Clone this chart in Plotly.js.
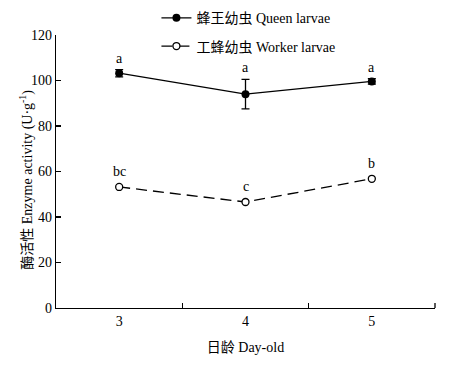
<!DOCTYPE html>
<html>
<head>
<meta charset="utf-8">
<script src="https://cdn.plot.ly/plotly-3.0.1.min.js"></script>
<style>html,body{margin:0;padding:0;background:#fff;}#chart{width:454px;height:372px;}</style>
</head>
<body>
<div id="chart"></div>
<script>
var days = ["3", "4", "5"];
var queenValues = [103.2, 94.0, 99.6];
var queenErrors = [1.6, 6.5, 1.2];
var queenLetters = ["a", "a", "a"];
var workerValues = [53.2, 46.6, 56.8];
var workerErrors = [0.5, 0.4, 0.5];
var workerLetters = ["bc", "c", "b"];
var yTicks = [0, 20, 40, 60, 80, 100, 120];

var FONT = "'Liberation Serif', 'Times New Roman', 'Noto Sans CJK SC', serif";

var traces = [
  {
    x: days, y: queenValues, type: "scatter", mode: "lines+markers",
    name: "蜂王幼虫 Queen larvae", legendgroup: "q",
    line: {color: "#000", width: 1.3},
    marker: {symbol: "circle", size: 8, color: "#000"},
    error_y: {type: "data", array: queenErrors, visible: true, color: "#000", thickness: 1.3, width: 4}
  },
  {
    x: days, y: workerValues, type: "scatter", mode: "lines+markers",
    name: "工蜂幼虫 Worker larvae", legendgroup: "w",
    line: {color: "#000", width: 1.3, dash: "11px,6px"},
    marker: {symbol: "circle", size: 7, color: "#fff", line: {color: "#000", width: 1.3}},
    error_y: {type: "data", array: workerErrors, visible: true, color: "#000", thickness: 1.3, width: 3}
  }
];

var annotations = [];
days.forEach(function (d, i) {
  annotations.push({x: i, y: queenValues[i] + queenErrors[i], text: queenLetters[i], showarrow: false,
    yanchor: "bottom", yshift: 2, font: {family: FONT, size: 14, color: "#000"}});
  annotations.push({x: i, y: workerValues[i] + workerErrors[i], text: workerLetters[i], showarrow: false,
    yanchor: "bottom", yshift: 5, font: {family: FONT, size: 14, color: "#000"}});
});
annotations.push({
  xref: "paper", yref: "paper", x: 0, y: 0.47, xshift: -29, textangle: -90,
  text: "酶活性 Enzyme activity (U·g<sup>-1</sup>)", showarrow: false,
  xanchor: "center", yanchor: "middle", font: {family: FONT, size: 14, color: "#000"}
});

var layout = {
  width: 454, height: 372,
  margin: {l: 56, r: 19, t: 35, b: 64, autoexpand: false},
  paper_bgcolor: "#fff", plot_bgcolor: "#fff",
  font: {family: FONT, size: 14, color: "#000"},
  showlegend: true,
  legend: {x: 0.265, y: 1.12, xanchor: "left", yanchor: "top", bgcolor: "rgba(0,0,0,0)",
    font: {family: FONT, size: 14, color: "#000"}, tracegroupgap: 7},
  xaxis: {
    type: "category", range: [-0.5, 2.5],
    showline: true, linecolor: "#000", linewidth: 1.3,
    ticks: "inside", tickson: "boundaries", ticklen: 5, tickcolor: "#000", tickwidth: 1.3,
    showgrid: false, zeroline: false,
    tickfont: {family: FONT, size: 14},
    title: {text: "日龄 Day-old", font: {family: FONT, size: 14}, standoff: 14}
  },
  yaxis: {
    range: [0, 120], tickvals: yTicks, ticktext: yTicks.map(String),
    showline: true, linecolor: "#000", linewidth: 1.3,
    ticks: "inside", ticklen: 5, tickcolor: "#000", tickwidth: 1.3,
    showgrid: false, zeroline: false,
    tickfont: {family: FONT, size: 14}
  },
  shapes: [
    {type: "line", xref: "paper", yref: "y", x0: 1, x1: 1, y0: 0, y1: 2.2, line: {color: "#000", width: 1.3}}
  ],
  annotations: annotations
};

Plotly.newPlot("chart", traces, layout, {displayModeBar: false, staticPlot: true});
</script>
</body>
</html>
